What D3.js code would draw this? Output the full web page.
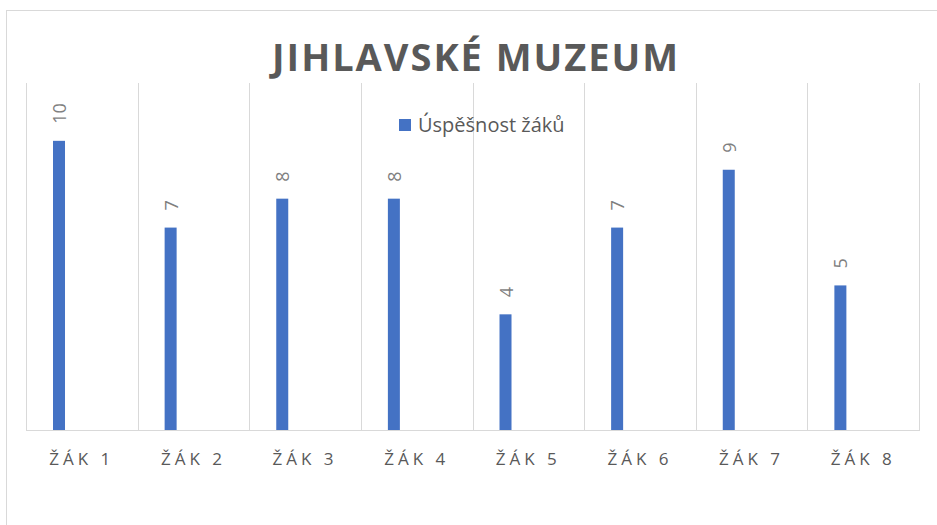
<!DOCTYPE html>
<html>
  <script src="https://cdn.jsdelivr.net/npm/d3@7"></script>
  <style>
    body { margin: 0; background: #fff; }
    text { font-family: "Open Sans", "Noto Sans", sans-serif; }
  </style>
  <body>
    <script>
var categories = ['ŽÁK 1', 'ŽÁK 2', 'ŽÁK 3', 'ŽÁK 4', 'ŽÁK 5', 'ŽÁK 6', 'ŽÁK 7', 'ŽÁK 8']
  , values = [10, 7, 8, 8, 4, 7, 9, 5]
  , seriesName = 'Úspěšnost žáků'
  , title = 'JIHLAVSKÉ MUZEUM'

var W = 937, H = 525
  , m = { left: 26, right: 18, top: 83, bottom: 95 }
  , svg = d3.select('body').append('svg').attr('width', W).attr('height', H)

// chart frame
svg.append('rect')
  .attr('x', 6.5).attr('y', 10.5).attr('width', 1000).attr('height', 600)
  .attr('fill', 'none').attr('stroke', '#d9d9d9')

var x = d3.scaleBand().domain(categories).range([m.left, W - m.right]).padding(0)
  , y = d3.scaleLinear().domain([0, 12]).range([H - m.bottom, m.top])

// vertical gridlines at category boundaries
var edges = categories.map(function(c){ return x(c) }).concat([x.range()[1]])
svg.append('g').selectAll('line').data(edges).enter().append('line')
  .attr('x1', function(d){ return Math.round(d) + 0.5 })
  .attr('x2', function(d){ return Math.round(d) + 0.5 })
  .attr('y1', y(12)).attr('y2', y(0))
  .attr('stroke', '#d9d9d9')

// bars sit in the first of two slots (second series slot is empty)
var slot = d3.scaleBand().domain(['a', 'b']).range([0, x.bandwidth()]).paddingInner(0.737).paddingOuter(0.592)

svg.append('g').selectAll('rect').data(values).enter().append('rect')
  .attr('x', function(d, i){ return x(categories[i]) + slot('a') })
  .attr('width', slot.bandwidth())
  .attr('y', function(d){ return y(d) })
  .attr('height', function(d){ return y(0) - y(d) })
  .attr('fill', '#4472c4')

// data labels
svg.append('g').selectAll('text').data(values).enter().append('text')
  .attr('transform', function(d, i){
    var cx = x(categories[i]) + slot('a') + slot.bandwidth() / 2
    return 'translate(' + (cx + 7) + ',' + (y(d) - 17) + ') rotate(-90)'
  })
  .attr('fill', '#7f7f7f').attr('font-size', 18)
  .text(function(d){ return d })

// x axis
var xAxis = svg.append('g').attr('transform', 'translate(0,' + y(0) + ')')
  .call(d3.axisBottom(x).tickSize(0).tickPadding(23))
xAxis.select('.domain').attr('stroke', '#d9d9d9').attr('d', 'M' + m.left + ',0.5H' + (W - m.right + 1))
xAxis.selectAll('text')
  .attr('fill', '#595959').attr('font-size', 17).attr('letter-spacing', 4)
  .attr('font-family', '"Open Sans", sans-serif')

// title
svg.append('text')
  .attr('x', 475).attr('y', 71).attr('text-anchor', 'middle')
  .attr('font-size', 38).attr('font-weight', 'bold')
  .attr('textLength', 406).attr('lengthAdjust', 'spacing')
  .attr('fill', '#595959')
  .text(title)

// legend
var lg = svg.append('g').attr('transform', 'translate(399,119)')
lg.append('rect').attr('width', 12).attr('height', 12).attr('fill', '#4472c4')
lg.append('text').attr('x', 19).attr('y', 13).attr('font-size', 20).attr('fill', '#595959').text(seriesName)
    </script>
  </body>
</html>
